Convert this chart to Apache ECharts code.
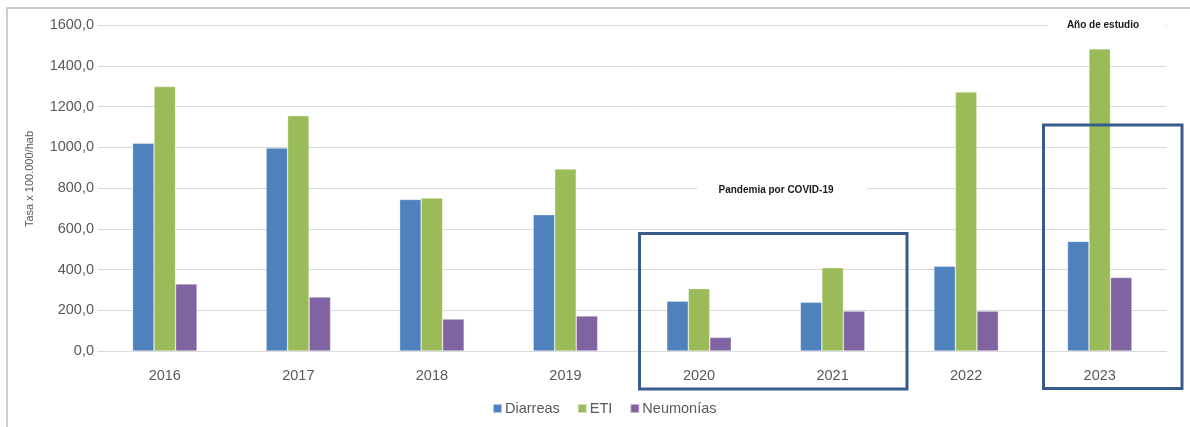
<!DOCTYPE html>
<html>
<head>
<meta charset="utf-8">
<script src="https://cdn.jsdelivr.net/npm/echarts@6/dist/echarts.min.js"></script>
<style>
html,body{margin:0;padding:0;background:#fff;}
#main{width:1190px;height:427px;}
</style>
</head>
<body>
<div id="main"></div>
<script>
const categories = ['2016','2017','2018','2019','2020','2021','2022','2023'];
const diarreas = [1020, 996, 744, 669, 245, 239, 416, 538];
const eti = [1298, 1155, 751, 893, 306, 409, 1271, 1483];
const neumonias = [329, 265, 157, 172, 67, 196, 196, 361];
const yTicks = { min: 0, max: 1600, interval: 200 };

const FONT = '"Liberation Sans", Arial, sans-serif';
const chart = echarts.init(document.getElementById('main'), null, { renderer: 'canvas' });

function barSeries(name, data, color) {
  return {
    name, type: 'bar', data,
    barWidth: 21.5, barGap: '0%',
    itemStyle: { color, borderColor: 'rgba(255,255,255,0.55)', borderWidth: 0.6 }
  };
}

chart.setOption({
  animation: false,
  textStyle: { fontFamily: FONT },
  grid: { left: 98, right: 23.5, top: 25, bottom: 76, containLabel: false },
  xAxis: {
    type: 'category', data: categories,
    axisLine: { lineStyle: { color: '#d9d9d9' } },
    axisTick: { show: false },
    axisLabel: { color: '#595959', fontSize: 14.5, margin: 17, fontFamily: FONT }
  },
  yAxis: {
    type: 'value', min: yTicks.min, max: yTicks.max, interval: yTicks.interval,
    axisLine: { show: false }, axisTick: { show: false },
    splitLine: { lineStyle: { color: '#d9d9d9', width: 1 } },
    axisLabel: {
      color: '#595959', fontSize: 14.5, margin: 4, fontFamily: FONT,
      formatter: v => v.toFixed(1).replace('.', ',')
    }
  },
  legend: {
    bottom: 6, left: 487,
    icon: 'rect', itemWidth: 9, itemHeight: 9, itemGap: 17,
    textStyle: { color: '#595959', fontSize: 14.5, fontFamily: FONT, padding: [0, 0, 0, -2] },
    data: ['Diarreas', 'ETI', 'Neumonías']
  },
  series: [
    barSeries('Diarreas', diarreas, '#4F81BD'),
    barSeries('ETI', eti, '#9BBB59'),
    barSeries('Neumonías', neumonias, '#8064A2')
  ],
  graphic: [
    { type: 'rect', shape: { x: 7, y: 8, width: 1250, height: 500 }, style: { fill: 'none', stroke: '#bfbfbf', lineWidth: 1.5 }, z: 0, silent: true },
    { type: 'text', rotation: Math.PI / 2, x: 30, y: 179, style: { text: 'Tasa x 100.000/hab', fill: '#595959', font: '11px ' + FONT, align: 'center', verticalAlign: 'middle' }, z: 10 },
    { type: 'rect', shape: { x: 1048, y: 18, width: 117, height: 14 }, style: { fill: '#fff' }, z: 10 },
    { type: 'text', x: 1103, y: 25, style: { text: 'Año de estudio', fill: '#1a1a1a', font: 'bold 10px ' + FONT, align: 'center', verticalAlign: 'middle' }, z: 11 },
    { type: 'rect', shape: { x: 697, y: 182, width: 170, height: 14 }, style: { fill: '#fff' }, z: 10 },
    { type: 'text', x: 776, y: 190, style: { text: 'Pandemia por COVID-19', fill: '#1a1a1a', font: 'bold 10px ' + FONT, align: 'center', verticalAlign: 'middle' }, z: 11 },
    { type: 'rect', shape: { x: 639.5, y: 233.5, width: 267.5, height: 155.5 }, style: { fill: 'none', stroke: '#385D8A', lineWidth: 3 }, z: 12 },
    { type: 'rect', shape: { x: 1043.5, y: 125, width: 138.5, height: 263.5 }, style: { fill: 'none', stroke: '#385D8A', lineWidth: 3 }, z: 12 }
  ]
});
</script>
</body>
</html>
